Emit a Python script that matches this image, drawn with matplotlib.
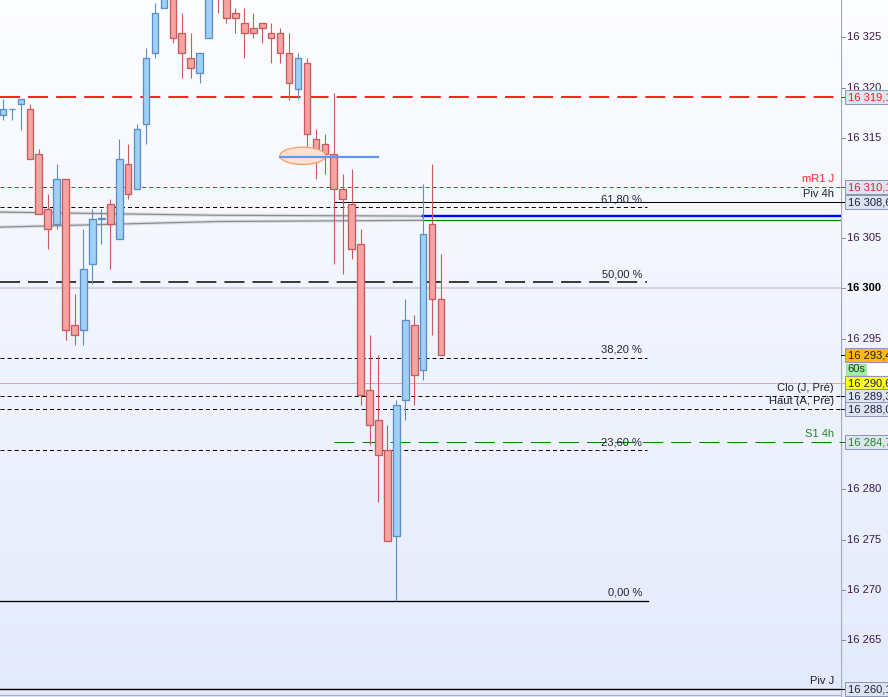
import numpy as np
import matplotlib
matplotlib.use('Agg')
import matplotlib.pyplot as plt
from matplotlib.patches import Ellipse, Rectangle

plt.rcParams['font.family'] = ['Liberation Sans', 'DejaVu Sans']
plt.rcParams['lines.scale_dashes'] = False

# ---------------- data ----------------
opens = [16317.3, 16317.85, 16318.4, 16317.9, 16313.4, 16307.9, 16306.4, 16310.9, 16296.4, 16295.9,
         16302.4, 16306.9, 16308.4, 16304.9, 16312.4, 16309.9, 16316.4, 16323.4, 16327.9, 16330.8,
         16325.4, 16322.9, 16321.4, 16324.9, 16331.0, 16329.2, 16327.4, 16326.4, 16325.9, 16326.4,
         16325.4, 16325.4, 16323.4, 16319.9, 16322.4, 16314.9, 16314.4, 16313.4, 16309.9, 16308.4,
         16304.4, 16289.9, 16286.9, 16283.9, 16275.4, 16288.9, 16296.4, 16291.9, 16306.4, 16298.9]
highs = [16318.9, 16317.9, 16318.9, 16318.4, 16313.9, 16309.4, 16312.4, 16310.9, 16299.4, 16305.9,
         16307.9, 16307.9, 16308.9, 16314.9, 16314.4, 16316.4, 16323.9, 16328.4, 16331.5, 16331.5,
         16327.4, 16325.4, 16323.4, 16331.0, 16332.3, 16329.5, 16327.9, 16327.9, 16327.4, 16326.4,
         16326.4, 16325.9, 16325.4, 16323.4, 16322.9, 16315.9, 16315.4, 16319.5, 16311.4, 16311.9,
         16305.9, 16295.4, 16293.4, 16286.4, 16288.9, 16298.9, 16297.4, 16310.4, 16312.4, 16303.4]
lows = [16316.8, 16316.8, 16315.8, 16312.9, 16307.4, 16303.9, 16305.9, 16294.9, 16294.4, 16294.4,
        16300.4, 16304.4, 16301.9, 16304.9, 16308.9, 16309.9, 16314.4, 16322.9, 16327.9, 16324.4,
        16320.9, 16320.9, 16320.4, 16324.9, 16327.4, 16326.4, 16325.4, 16322.9, 16324.9, 16324.4,
        16322.4, 16322.4, 16318.8, 16318.9, 16313.9, 16310.9, 16311.4, 16302.4, 16301.4, 16302.9,
        16288.4, 16284.4, 16278.7, 16274.9, 16268.9, 16286.9, 16288.4, 16290.9, 16295.4, 16293.4]
closes = [16317.9, 16317.85, 16318.9, 16312.9, 16307.4, 16305.9, 16310.9, 16295.9, 16295.4, 16301.9,
          16306.9, 16307.0, 16306.4, 16312.9, 16309.4, 16315.9, 16322.9, 16327.4, 16330.5, 16324.9,
          16323.4, 16321.9, 16323.4, 16330.0, 16329.5, 16326.9, 16326.9, 16325.4, 16325.4, 16325.9,
          16324.9, 16323.4, 16320.4, 16322.9, 16315.4, 16313.9, 16313.4, 16309.9, 16308.9, 16303.9,
          16289.4, 16286.4, 16283.4, 16274.9, 16288.4, 16296.9, 16291.4, 16305.4, 16298.9, 16293.4]

# two indicator lines (history in gray, current value coloured)
ind_idx = [-0.34, 24, 47]
ind_upper = [16307.6, 16307.28, 16307.2]
ind_lower = [16306.1, 16306.66, 16306.78]
ind_upper_now = 16307.25
ind_lower_now = 16306.8

# Fibonacci levels
fib_labels = ['0,00 %', '23,60 %', '38,20 %', '50,00 %', '61,80 %']
fib_prices = [16268.9, 16283.9, 16293.1, 16300.6, 16308.1]

# named pivot levels
piv_labels = ['mR1 J', 'Piv 4h', 'Clo (J, Pré)', 'Haut (A, Pré)', 'S1 4h', 'Piv J']
piv_prices = [16310.1, 16308.6, 16289.3, 16288.0, 16284.7, 16260.1]
piv_colors = ['#ff2a2a', '#202028', '#202028', '#202028', '#1f8a1f', '#202028']

red_level = 16319.1
close_prev = 16290.6

# visible axis ticks (others are hidden behind the price boxes)
tick_values = [16265, 16270, 16275, 16280, 16295, 16300, 16305, 16315, 16320, 16325]
box_values = ['16 319,1', '16 310,1', '16 308,6', '16 293,4', '16 290,6', '16 289,3', '16 288,0', '16 284,7', '16 260,1']
box_prices = [16319.1, 16310.1, 16308.6, 16293.4, 16290.6, 16289.3, 16288.0, 16284.7, 16260.1]
box_text_col = ['#ff2020', '#e8203c', '#202040', '#202040', '#202040', '#202040', '#202040', '#1f8a1f', '#202040']
box_bg = ['#dde4f0', '#dde4f0', '#dde4f0', '#f7bb10', '#ffff20', '#dde4f0', '#dde4f0', '#dde4f0', '#dde4f0']

# ---------------- figure ----------------
W, H = 888, 697
fig = plt.figure(figsize=(W / 100, H / 100), dpi=100)

bg = fig.add_axes([0, 0, 1, 1])
grad = np.linspace(0, 1, 256)[:, None]
top = np.array([0.992, 0.994, 1.0])
bot = np.array([0.890, 0.918, 0.985])
img = top[None, None, :] * (1 - grad[:, :, None]) + bot[None, None, :] * grad[:, :, None]
bg.imshow(img, aspect='auto', extent=[0, 1, 0, 1], origin='upper')
bg.set_xlim(0, 1); bg.set_ylim(0, 1)
bg.axis('off')

PW = 841
ax = fig.add_axes([0, 0, PW / W, 1])
ax.patch.set_alpha(0)
ymin, ymax = 16259.33, 16328.71
ax.set_ylim(ymin, ymax)
ax.set_xlim(-0.336, 93.74)
ax.axis('off')

px = 0.72  # points per pixel

# gridline for 16300
ax.axhline(16300, color='#c4ccdc', lw=1.5 * px, zorder=1)
# bottom border line
ax.axhline(ymin + 0.2, color='#a8b0c4', lw=1.2 * px, zorder=1)

# red long dashed
ax.axhline(red_level, color='#ff0000', lw=1.7 * px, dashes=(14.4, 5.8), zorder=2)

# fib lines
fx = 647 / PW
for lab, p in zip(fib_labels, fib_prices):
    if lab == '0,00 %':
        ax.axhline(p, xmax=648 / PW, color='#000000', lw=1.3 * px, zorder=2)
    elif lab == '50,00 %':
        ax.axhline(p, xmax=fx, color='#000000', lw=1.5 * px, dashes=(14.4, 5.8), zorder=2)
    else:
        ax.axhline(p, xmax=fx, color='#000000', lw=1.0 * px, dashes=(2.9, 2.2), zorder=2)
    ax.text(642 / PW, p + 0.3, lab, transform=ax.get_yaxis_transform(), ha='right', va='bottom',
            fontsize=8, color='#22223a', zorder=6)

# pivot lines
for lab, p, c in zip(piv_labels, piv_prices, piv_colors):
    if lab == 'mR1 J':
        ax.axhline(p, color='#e02020', lw=1.0 * px, dashes=(2.9, 2.2), zorder=2)
    elif lab == 'Piv 4h':
        ax.axhline(p, xmin=334 / PW, color='#000000', lw=1.0 * px, zorder=2)
    elif lab in ('Clo (J, Pré)', 'Haut (A, Pré)'):
        ax.axhline(p, color='#000000', lw=1.0 * px, dashes=(2.9, 2.2), zorder=2)
    elif lab == 'S1 4h':
        ax.axhline(p, xmin=334 / PW, color='#008000', lw=1.0 * px, dashes=(14.4, 5.8), zorder=2)
    else:
        ax.axhline(p, color='#000000', lw=1.4 * px, zorder=2)
    ax.text(834 / PW, p + 0.3, lab, transform=ax.get_yaxis_transform(), ha='right', va='bottom',
            fontsize=8, color=c, zorder=6)

# previous close line (pink)
ax.axhline(close_prev, color='#e8a0a4', lw=1.0 * px, zorder=2)

# indicator lines
ax.plot(ind_idx, ind_upper, color='#d4d4d8', lw=3.5 * px, alpha=0.7, zorder=2, solid_capstyle='butt')
ax.plot(ind_idx, ind_lower, color='#d4d4d8', lw=3.5 * px, alpha=0.7, zorder=2, solid_capstyle='butt')
ax.plot(ind_idx, ind_upper, color='#8c8c90', lw=1.2 * px, zorder=3)
ax.plot(ind_idx, ind_lower, color='#8c8c90', lw=1.2 * px, zorder=3)
ax.axhline(ind_upper_now, xmin=423 / PW, color='#0000ff', lw=2.4 * px, zorder=3)
ax.axhline(ind_lower_now, xmin=423 / PW, color='#008000', lw=1.2 * px, zorder=3)

# candles
x = np.arange(len(opens))
o = np.array(opens); c = np.array(closes); h = np.array(highs); l = np.array(lows)
up = c >= o
up_fill, up_edge = '#9fd0f6', '#5b8ec6'
dn_fill, dn_edge = '#f6a4a2', '#c85a5c'
ax.vlines(x[up], l[up], h[up], color=up_edge, lw=1.1 * px, zorder=4)
ax.vlines(x[~up], l[~up], h[~up], color=dn_edge, lw=1.1 * px, zorder=4)
bw = 6.6 / 8.94
ax.bar(x[up], c[up] - o[up], bottom=o[up], width=bw, color=up_fill, edgecolor=up_edge,
       linewidth=1.3 * px, zorder=5)
ax.bar(x[~up], c[~up] - o[~up], bottom=o[~up], width=bw, color=dn_fill, edgecolor=dn_edge,
       linewidth=1.3 * px, zorder=5)

# annotation ellipse and blue segment
ax.add_patch(Ellipse((33.53, 16313.2), 5.11, 1.72, facecolor='#fbe2d4', edgecolor='#f4a06a',
                     lw=1.3 * px, zorder=6))
ax.axhline(16313.1, xmin=280 / PW, xmax=378 / PW, color='#6495ed', lw=2.2 * px, zorder=7)

# ---------------- right price axis ----------------
rax = fig.add_axes([PW / W, 0, (W - PW) / W, 1])
rax.patch.set_alpha(0)
rax.set_xlim(0, W - PW)
rax.set_ylim(ymin, ymax)
rax.axis('off')
rax.axvline(0.3, color='#a4acbc', lw=1.3 * px, zorder=1)

for t in tick_values:
    rax.plot([0, 4], [t, t], color='#8890a0', lw=1 * px, zorder=2)
    s = f"{t:,}".replace(',', ' ')
    rax.text(6, t, s, fontsize=8, va='center', ha='left',
             color='#000000' if t == 16300 else '#3a1a4c',
             fontweight='bold' if t == 16300 else 'normal', zorder=2)

bh = 14 / 10.045
line_cols = {16319.1: '#ff0000', 16310.1: '#e02020', 16308.6: '#000000', 16293.4: '#000000',
             16290.6: '#e8a0a4', 16289.3: '#000000', 16288.0: '#000000', 16284.7: '#008000',
             16260.1: '#000000'}
for s, p, tc, bc in zip(box_values, box_prices, box_text_col, box_bg):
    rax.plot([0, 4], [p, p], color=line_cols[p], lw=1 * px, zorder=3)
    rax.add_patch(Rectangle((4, p - bh / 2), 50, bh, facecolor=bc, edgecolor='#8a98b2',
                            lw=1 * px, zorder=4))
    rax.text(6.5, p - 0.05, s, fontsize=8, va='center', ha='left', color=tc, zorder=5)

# 60s countdown box
p60 = 16291.95
rax.add_patch(Rectangle((5, p60 - 0.55), 21, 1.1, facecolor='#9ff09f', edgecolor='#8ad08a',
                        lw=0.6 * px, zorder=4))
rax.add_patch(Rectangle((26, p60 - 0.55), 30, 1.1, facecolor='#ffffff', edgecolor='none', zorder=4))
rax.text(6.5, p60, '60s', fontsize=8, va='center', ha='left', color='#204020', zorder=5)

fig.savefig('out.png', dpi=100)
